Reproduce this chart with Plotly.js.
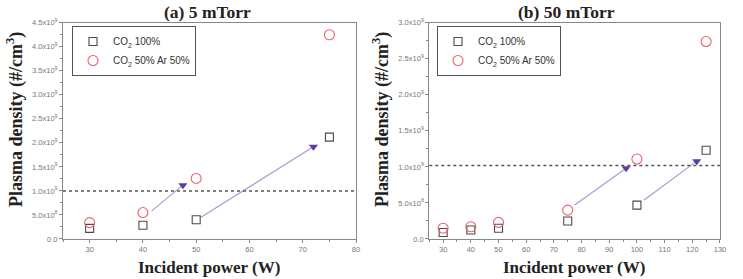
<!DOCTYPE html>
<html>
<head>
<meta charset="utf-8">
<script src="https://cdn.plot.ly/plotly-3.0.1.min.js"></script>
<style>
  html, body { margin: 0; padding: 0; background: #fff; }
  #chart { width: 743px; height: 279px; }
</style>
</head>
<body>
<div id="chart"></div>
<script>
// Incident power (W)
const powerA = [30, 40, 50, 75];
const powerB = [30, 40, 50, 75, 100, 125];

// Plasma density (#/cm^3), (a) 5 mTorr
const co2A   = [0.22e9, 0.285e9, 0.40e9, 2.12e9];
const co2ArA = [0.34e9, 0.55e9, 1.26e9, 4.25e9];

// Plasma density (#/cm^3), (b) 50 mTorr
const co2B   = [0.09e9, 0.125e9, 0.15e9, 0.25e9, 0.47e9, 1.23e9];
const co2ArB = [0.15e9, 0.17e9, 0.23e9, 0.40e9, 1.11e9, 2.74e9];

// Reference density level (dotted line)
const refDensityA = 1.0e9;
const refDensityB = 1.02e9;

// Trend arrows: [start, end] pairs, end marked with a triangle
const arrowsA = [
  { x: [41.6, 47.5], y: [0.58e9, 1.12e9] },
  { x: [50.9, 72.0], y: [0.45e9, 1.92e9] }
];
const arrowsB = [
  { x: [77.5, 96.1], y: [0.47e9, 0.98e9] },
  { x: [102.6, 121.6], y: [0.54e9, 1.08e9] }
];

// Axis ticks
const xTicksA = [30, 40, 50, 60, 70, 80];
const xTicksB = [30, 40, 50, 60, 70, 80, 90, 100, 110, 120, 130];
const yTicksA = [0, 0.5e9, 1.0e9, 1.5e9, 2.0e9, 2.5e9, 3.0e9, 3.5e9, 4.0e9, 4.5e9];
const yTextA  = ['0.0', '5.0x10<sup>8</sup>', '1.0x10<sup>9</sup>', '1.5x10<sup>9</sup>', '2.0x10<sup>9</sup>',
                 '2.5x10<sup>9</sup>', '3.0x10<sup>9</sup>', '3.5x10<sup>9</sup>', '4.0x10<sup>9</sup>', '4.5x10<sup>9</sup>'];
const yTicksB = [0, 0.5e9, 1.0e9, 1.5e9, 2.0e9, 2.5e9, 3.0e9];
const yTextB  = ['0.0', '5.0x10<sup>8</sup>', '1.0x10<sup>9</sup>', '1.5x10<sup>9</sup>', '2.0x10<sup>9</sup>',
                 '2.5x10<sup>9</sup>', '3.0x10<sup>9</sup>'];

const nameCO2   = 'CO<sub>2</sub> 100%';
const nameCO2Ar = 'CO<sub>2</sub> 50% Ar 50%';

const sqColor = '#4a4a4a';
const ciColor = '#e8646e';
const triColor = '#5e3c9c';
const arrowColor = '#a99ad2';

function arrowTraces(list, xa, ya) {
  const out = [];
  list.forEach(a => {
    out.push({ x: a.x, y: a.y, xaxis: xa, yaxis: ya, mode: 'lines', type: 'scatter',
      line: { color: arrowColor, width: 1.2 }, showlegend: false, hoverinfo: 'skip' });
    out.push({ x: [a.x[1]], y: [a.y[1]], xaxis: xa, yaxis: ya, mode: 'markers', type: 'scatter',
      marker: { symbol: 'triangle-down', size: 8, color: triColor }, showlegend: false, hoverinfo: 'skip' });
  });
  return out;
}

const traces = [
  ...arrowTraces(arrowsA, 'x', 'y'),
  ...arrowTraces(arrowsB, 'x2', 'y2'),
  { x: powerA, y: co2A, xaxis: 'x', yaxis: 'y', type: 'scatter', mode: 'markers', name: nameCO2, legend: 'legend',
    marker: { symbol: 'square-open', size: 8, color: sqColor, line: { width: 1.1 } } },
  { x: powerA, y: co2ArA, xaxis: 'x', yaxis: 'y', type: 'scatter', mode: 'markers', name: nameCO2Ar, legend: 'legend',
    marker: { symbol: 'circle-open', size: 10, color: ciColor, line: { width: 1.1 } } },
  { x: powerB, y: co2B, xaxis: 'x2', yaxis: 'y2', type: 'scatter', mode: 'markers', name: nameCO2, legend: 'legend2',
    marker: { symbol: 'square-open', size: 8, color: sqColor, line: { width: 1.1 } } },
  { x: powerB, y: co2ArB, xaxis: 'x2', yaxis: 'y2', type: 'scatter', mode: 'markers', name: nameCO2Ar, legend: 'legend2',
    marker: { symbol: 'circle-open', size: 10, color: ciColor, line: { width: 1.1 } } }
];

const tickFont = { family: 'Liberation Sans, Arial, sans-serif', size: 7.5, color: '#777' };
const titleFont = { family: 'Liberation Serif, Times New Roman, serif', size: 17, color: '#222' };

function xAxis(domain, range, ticks, anchor) {
  return {
    domain: domain, range: range, anchor: anchor,
    tickmode: 'array', tickvals: ticks, ticktext: ticks.map(String),
    ticks: 'outside', ticklen: 3, tickwidth: 1, tickcolor: '#888',
    minor: { dtick: 5, tick0: 0, ticks: 'outside', ticklen: 2, tickcolor: '#888' },
    showline: true, linecolor: '#888', linewidth: 1, mirror: true,
    showgrid: false, zeroline: false, tickfont: tickFont
  };
}
function yAxis(range, ticks, text, anchor) {
  return {
    domain: [0.1434, 0.9186], range: range, anchor: anchor,
    tickmode: 'array', tickvals: ticks, ticktext: text,
    ticks: 'outside', ticklen: 3, tickwidth: 1, tickcolor: '#888',
    minor: { dtick: 0.25e9, tick0: 0, ticks: 'outside', ticklen: 2, tickcolor: '#888' },
    showline: true, linecolor: '#888', linewidth: 1, mirror: true,
    showgrid: false, zeroline: false, tickfont: tickFont
  };
}

const legendBase = {
  bgcolor: 'rgba(255,255,255,0)', bordercolor: '#555', borderwidth: 1,
  font: { family: 'Liberation Sans, Arial, sans-serif', size: 10, color: '#333' },
  xanchor: 'left', yanchor: 'top', tracegroupgap: 0, itemwidth: 30
};

const ann = (x, y, text, extra) => Object.assign({
  xref: 'paper', yref: 'paper', x: x, y: y, text: text, showarrow: false,
  font: titleFont, xanchor: 'center', yanchor: 'middle'
}, extra || {});

const layout = {
  width: 743, height: 279,
  margin: { l: 0, r: 0, t: 0, b: 0 },
  paper_bgcolor: '#fff', plot_bgcolor: '#fff',
  xaxis: xAxis([0.0848, 0.4792], [25, 80], xTicksA, 'y'),
  yaxis: yAxis([0, 4.5e9], yTicksA, yTextA, 'x'),
  xaxis2: xAxis([0.5778, 0.9690], [25, 130], xTicksB, 'y2'),
  yaxis2: yAxis([0, 3.0e9], yTicksB, yTextB, 'x2'),
  legend: Object.assign({}, legendBase, { x: 72 / 743, y: 1 - 26 / 279 }),
  legend2: Object.assign({}, legendBase, { x: 437 / 743, y: 1 - 26 / 279 }),
  shapes: [
    { type: 'line', xref: 'x domain', yref: 'y', x0: 0, x1: 1, y0: refDensityA, y1: refDensityA,
      line: { color: '#555', width: 1.5, dash: 'dot' } },
    { type: 'line', xref: 'x2 domain', yref: 'y2', x0: 0, x1: 1, y0: refDensityB, y1: refDensityB,
      line: { color: '#555', width: 1.5, dash: 'dot' } }
  ],
  annotations: [
    ann(207 / 743, 1 - 12 / 279, '<b>(a) 5 mTorr</b>', { font: Object.assign({}, titleFont, { size: 17.5 }) }),
    ann(566 / 743, 1 - 12 / 279, '<b>(b) 50 mTorr</b>', { font: Object.assign({}, titleFont, { size: 17.5 }) }),
    ann(209 / 743, 1 - 267 / 279, '<b>Incident power (W)</b>'),
    ann(574 / 743, 1 - 267 / 279, '<b>Incident power (W)</b>'),
    ann(15 / 743, 1 - 120 / 279, '<b>Plasma density (#/cm<sup>3</sup>)</b>', { textangle: -90, font: Object.assign({}, titleFont, { size: 18 }) }),
    ann(381 / 743, 1 - 120 / 279, '<b>Plasma density (#/cm<sup>3</sup>)</b>', { textangle: -90, font: Object.assign({}, titleFont, { size: 18 }) })
  ]
};

Plotly.newPlot('chart', traces, layout, { displayModeBar: false, staticPlot: true });
</script>
</body>
</html>
